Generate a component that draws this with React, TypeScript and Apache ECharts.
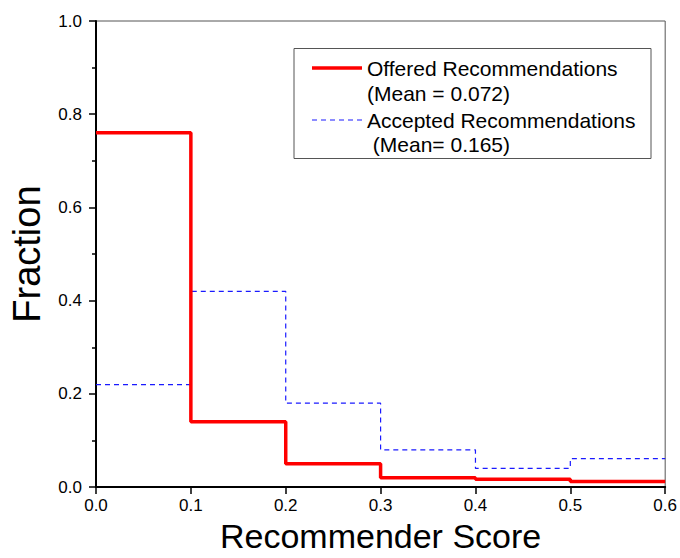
import React, { useEffect, useRef } from "react";
import * as echarts from "echarts";

const binStarts = [0, 0.1, 0.2, 0.3, 0.4, 0.5, 0.6];
const offeredValues = [0.76, 0.14, 0.05, 0.02, 0.017, 0.012, 0.012];
const acceptedValues = [0.22, 0.42, 0.18, 0.08, 0.04, 0.061, 0.061];
const offeredName = "Offered Recommendations";
const offeredMean = "(Mean = 0.072)";
const acceptedName = "Accepted Recommendations";
const acceptedMean = " (Mean= 0.165)";

const FONT = "'Liberation Sans', Arial, sans-serif";

export default function App() {
  const ref = useRef<HTMLDivElement>(null);
  useEffect(() => {
    document.body.style.margin = "0";
    const chart = echarts.init(ref.current!, null, { renderer: "svg" });
    const toPairs = (vals: number[]) => binStarts.map((x, i) => [x, vals[i]]);
    chart.setOption({
      animation: false,
      backgroundColor: "#ffffff",
      textStyle: { fontFamily: FONT },
      grid: {
        left: 93,
        top: 21,
        width: 575,
        height: 468,
        show: true,
        borderColor: "#555555",
        borderWidth: 1,
        containLabel: false,
      },
      xAxis: {
        type: "value",
        min: 0,
        max: 0.6,
        interval: 0.1,
        name: "Recommender Score",
        nameLocation: "middle",
        nameGap: 31,
        nameTextStyle: { fontSize: 34, color: "#000", fontFamily: FONT },
        axisLine: { show: true, lineStyle: { color: "#000", width: 2 } },
        axisTick: { show: true, inside: false, length: 7, lineStyle: { color: "#000", width: 1.5 } },
        axisLabel: {
          fontSize: 17,
          color: "#000",
          margin: 10,
          fontFamily: FONT,
          formatter: (v: number) => v.toFixed(1),
        },
        splitLine: { show: false },
      },
      yAxis: {
        type: "value",
        min: 0,
        max: 1,
        interval: 0.2,
        name: "Fraction",
        nameLocation: "middle",
        nameGap: 50,
        nameTextStyle: { fontSize: 38, color: "#000", fontFamily: FONT },
        axisLine: { show: true, lineStyle: { color: "#000", width: 2 } },
        axisTick: { show: true, inside: false, length: 7, lineStyle: { color: "#000", width: 1.5 } },
        minorTick: { show: true, splitNumber: 2, length: 4, lineStyle: { color: "#000", width: 1.5 } },
        axisLabel: {
          fontSize: 17,
          color: "#000",
          margin: 14,
          fontFamily: FONT,
          formatter: (v: number) => v.toFixed(1),
        },
        splitLine: { show: false },
        minorSplitLine: { show: false },
      },
      series: [
        {
          name: acceptedName,
          type: "line",
          step: "end",
          data: toPairs(acceptedValues),
          showSymbol: false,
          symbol: "none",
          lineStyle: { color: "#1a1aff", width: 1.2, type: [5, 4] },
          z: 2,
        },
        {
          name: offeredName,
          type: "line",
          step: "end",
          data: toPairs(offeredValues),
          showSymbol: false,
          symbol: "none",
          lineStyle: { color: "#ff0000", width: 3.5 },
          z: 3,
        },
      ],
      graphic: [
        {
          type: "rect",
          shape: { x: 294, y: 48.5, width: 357, height: 110 },
          style: { fill: "#ffffff", stroke: "#555555", lineWidth: 1 },
          z: 10,
        },
        {
          type: "line",
          shape: { x1: 312, y1: 68, x2: 362, y2: 68 },
          style: { stroke: "#ff0000", lineWidth: 3.5 },
          z: 11,
        },
        {
          type: "line",
          shape: { x1: 312, y1: 120, x2: 362, y2: 120 },
          style: { stroke: "#1a1aff", lineWidth: 1.2, lineDash: [5, 4] },
          z: 11,
        },
        {
          type: "text",
          x: 367,
          y: 68,
          style: { text: offeredName, font: `21px ${FONT}`, fill: "#000", verticalAlign: "middle", align: "left" },
          z: 11,
        },
        {
          type: "text",
          x: 367,
          y: 93,
          style: { text: offeredMean, font: `21px ${FONT}`, fill: "#000", verticalAlign: "middle", align: "left" },
          z: 11,
        },
        {
          type: "text",
          x: 367,
          y: 120,
          style: { text: acceptedName, font: `21px ${FONT}`, fill: "#000", verticalAlign: "middle", align: "left" },
          z: 11,
        },
        {
          type: "text",
          x: 367,
          y: 144,
          style: { text: acceptedMean, font: `21px ${FONT}`, fill: "#000", verticalAlign: "middle", align: "left" },
          z: 11,
        },
      ],
    });
    return () => chart.dispose();
  }, []);
  return (
    <div
      ref={ref}
      style={{ position: "absolute", left: 0, top: 0, width: 680, height: 558 }}
    />
  );
}
